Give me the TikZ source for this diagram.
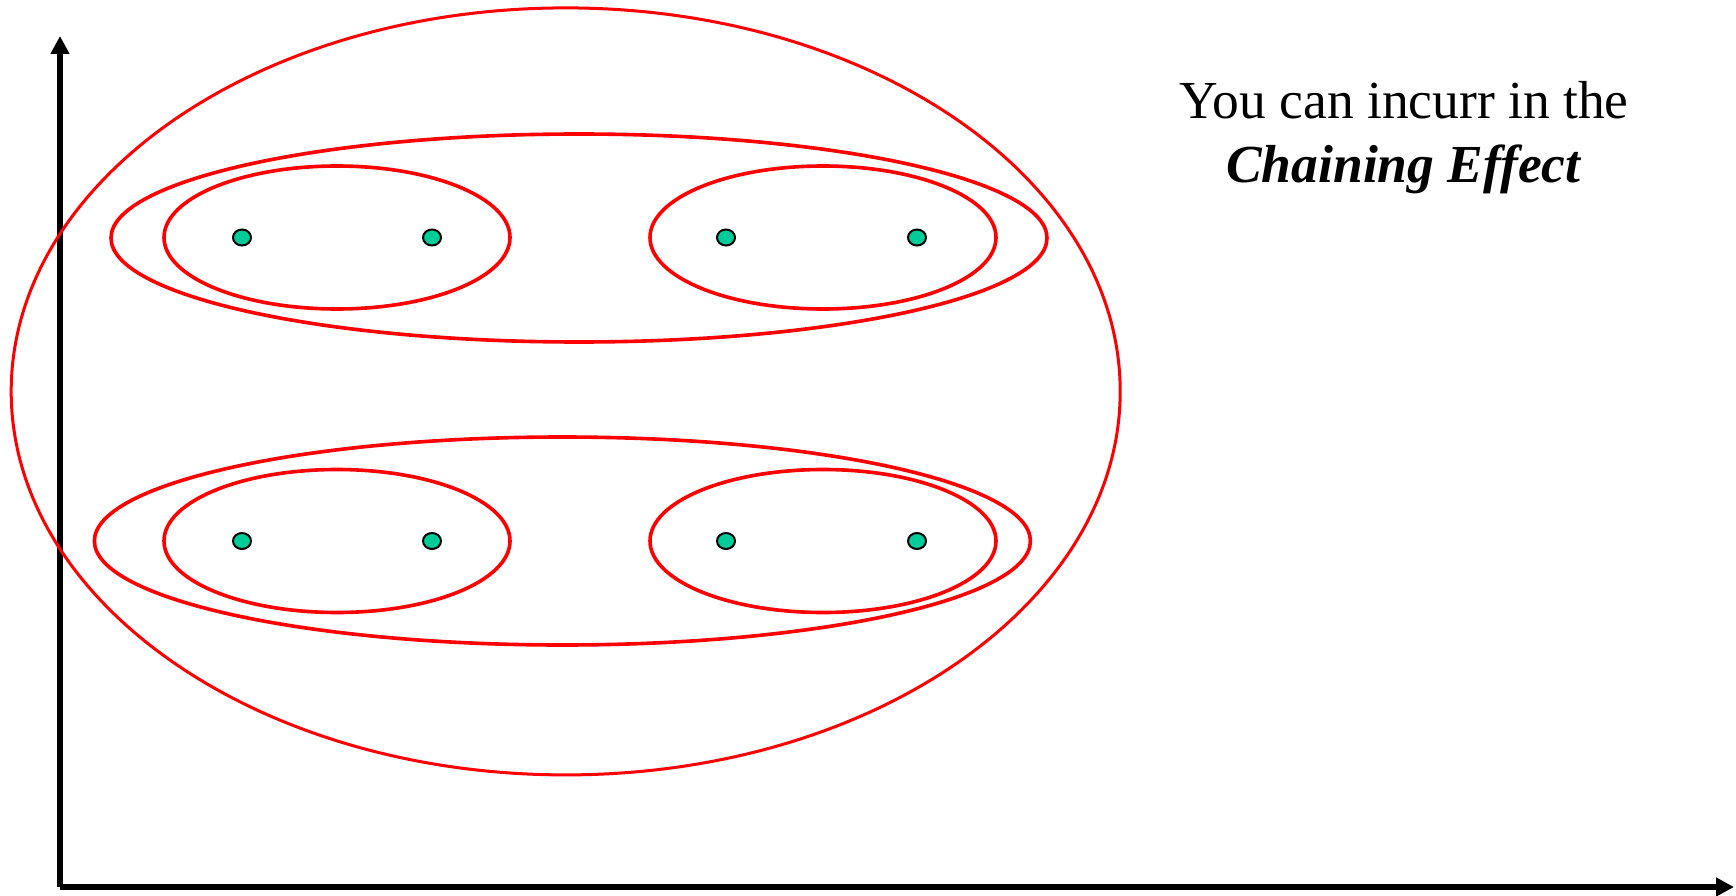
\documentclass[tikz,border=0pt]{standalone}
\usepackage{fontspec}
\setmainfont{Liberation Serif}
\usetikzlibrary{shapes.geometric, arrows.meta, positioning}
\definecolor{clusterred}{HTML}{FF0000}
\definecolor{dotgreen}{HTML}{00CC99}

\begin{document}
\begin{tikzpicture}[
  x=1pt, y=-1pt,
  clus/.style={ellipse, draw=clusterred, line width=3.6pt, inner sep=0pt},
  inner/.style={clus, minimum width=346pt, minimum height=143pt},
  group/.style={clus, minimum width=936pt, minimum height=208pt},
  pt/.style={ellipse, draw=black, line width=2pt, fill=dotgreen,
             minimum width=18pt, minimum height=16pt, inner sep=0pt},
  axis/.style={-{Triangle[length=18pt,width=18pt]}, line width=6pt, line join=miter},
  note/.style={align=center, font=\fontsize{53.5}{64}\selectfont},
]
\useasboundingbox (0,0) rectangle (1736,896);

%% --- Axes ---
\coordinate (origin) at (60,887);
\coordinate (ytip) at (60,36);
\coordinate (xtip) at (1734,887);
\draw[axis] (origin) -- (ytip);
\draw[axis] (origin) -- (xtip);

%% --- Whole set ---
\node[clus, line width=3pt, minimum width=1109pt, minimum height=767pt] (all) at (565.7,391.4) {};

%% --- Upper group ---
\node[group] (gtop) at (579,238) {};
\node[inner] (c1) at (337,237.5) {};
\node[inner] (c2) at (823,237.5) {};
\node[pt] (p1) at (242,237.5) {};
\node[pt] (p2) at (432,237.5) {};
\node[pt] (p3) at (726,237.5) {};
\node[pt] (p4) at (917,237.5) {};

%% --- Lower group ---
\node[group] (gbot) at (562.4,541) {};
\node[inner] (c3) at (337,541) {};
\node[inner] (c4) at (823,541) {};
\node[pt] (p5) at (242,541) {};
\node[pt] (p6) at (432,541) {};
\node[pt] (p7) at (726,541) {};
\node[pt] (p8) at (917,541) {};

%% --- Remark ---
\node[note] (remark) at (1404,138) {You can incurr in the\\\textbf{\textit{Chaining Effect}}};
\end{tikzpicture}
\end{document}
